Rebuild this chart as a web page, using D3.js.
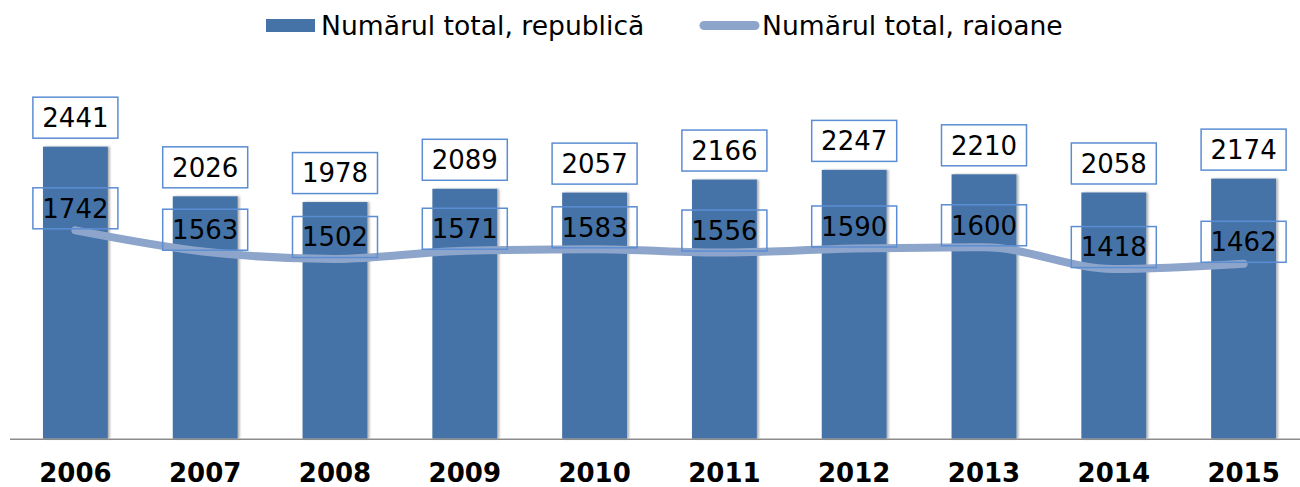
<!DOCTYPE html>
<html>
<head>
<meta charset="utf-8">
<script src="https://cdn.jsdelivr.net/npm/d3@7"></script>
<style>
  body { margin: 0; background: #fff; }
  svg { display: block; font-family: "DejaVu Sans", Verdana, sans-serif; }
</style>
</head>
<body>
<svg id="chart" width="1300" height="487"></svg>
<script>
// Data
const years = ['2006', '2007', '2008', '2009', '2010', '2011', '2012', '2013', '2014', '2015'];
const republica = [2441, 2026, 1978, 2089, 2057, 2166, 2247, 2210, 2058, 2174];
const raioane = [1742, 1563, 1502, 1571, 1583, 1556, 1590, 1600, 1418, 1462];
const seriesNames = ['Numărul total, republică', 'Numărul total, raioane'];

const BAR_COLOR = '#4573a7';
const LINE_COLOR = '#8ea5cb';
const BOX_COLOR = '#5b8dd3';

const svg = d3.select('#chart');

const x = d3.scaleBand()
    .domain(years)
    .range([10.5, 1308.5])
    .paddingInner(0.5)
    .paddingOuter(0.25);

const y = d3.scaleLinear()
    .domain([0, 3000])
    .range([438.7, 79.8]);

// shadow for bars
const defs = svg.append('defs');
const f = defs.append('filter').attr('id', 'shadow')
    .attr('x', '-20%').attr('y', '-5%').attr('width', '140%').attr('height', '110%');
f.append('feDropShadow')
    .attr('dx', 2).attr('dy', 0).attr('stdDeviation', 1.2)
    .attr('flood-color', '#000').attr('flood-opacity', 0.3);

// Bars
svg.append('g').selectAll('rect')
    .data(republica)
    .join('rect')
    .attr('x', (d, i) => x(years[i]))
    .attr('y', d => y(d))
    .attr('width', x.bandwidth())
    .attr('height', d => y(0) - y(d))
    .attr('fill', BAR_COLOR)
    .attr('filter', 'url(#shadow)');

// Axis line
svg.append('line')
    .attr('x1', 10).attr('x2', 1300)
    .attr('y1', y(0) + 0.5).attr('y2', y(0) + 0.5)
    .attr('stroke', '#8c8c8c').attr('stroke-width', 1.5);

// Year labels
const xAxis = svg.append('g')
    .attr('transform', 'translate(0,' + y(0) + ')')
    .call(d3.axisBottom(x).tickSize(0).tickPadding(0));
xAxis.select('.domain').remove();
xAxis.selectAll('text')
    .attr('dy', null)
    .attr('y', 43.5)
    .attr('fill', '#000')
    .attr('font-size', 26)
    .attr('font-weight', 'bold')
    .attr('font-family', '"DejaVu Sans", Verdana, sans-serif');

// Line
const cx = (i) => x(years[i]) + x.bandwidth() / 2;
const line = d3.line()
    .x((d, i) => cx(i))
    .y(d => y(d))
    .curve(d3.curveMonotoneX);

svg.append('path')
    .datum(raioane)
    .attr('d', line)
    .attr('fill', 'none')
    .attr('stroke', LINE_COLOR)
    .attr('stroke-width', 8)
    .attr('stroke-linecap', 'round')
    .attr('stroke-linejoin', 'round');

// Label boxes
const BOX_W = 85, BOX_H = 41;

function labels(values, yCenter, fill) {
    const g = svg.append('g').selectAll('g')
        .data(values)
        .join('g')
        .attr('transform', (d, i) => 'translate(' + cx(i) + ',' + yCenter(d) + ')');
    g.append('rect')
        .attr('x', -BOX_W / 2).attr('y', -BOX_H / 2)
        .attr('width', BOX_W).attr('height', BOX_H)
        .attr('fill', fill)
        .attr('stroke', BOX_COLOR)
        .attr('stroke-width', 1.5);
    g.append('text')
        .attr('text-anchor', 'middle')
        .attr('dy', '0.36em')
        .attr('font-size', 26)
        .attr('fill', '#000')
        .text(d => d);
}

labels(republica, d => y(d) - 8.5 - BOX_H / 2, '#fff');
labels(raioane, d => y(d) - 22, 'none');

// Legend
const legend = svg.append('g');
legend.append('rect')
    .attr('x', 266).attr('y', 19).attr('width', 49).attr('height', 13)
    .attr('fill', BAR_COLOR);
legend.append('text')
    .attr('x', 321).attr('y', 35)
    .attr('font-size', 26.6).attr('fill', '#000')
    .text(seriesNames[0]);
legend.append('line')
    .attr('x1', 704).attr('x2', 755).attr('y1', 25.5).attr('y2', 25.5)
    .attr('stroke', LINE_COLOR).attr('stroke-width', 9)
    .attr('stroke-linecap', 'round');
legend.append('text')
    .attr('x', 762).attr('y', 35)
    .attr('font-size', 26.6).attr('fill', '#000')
    .text(seriesNames[1]);
</script>
</body>
</html>
